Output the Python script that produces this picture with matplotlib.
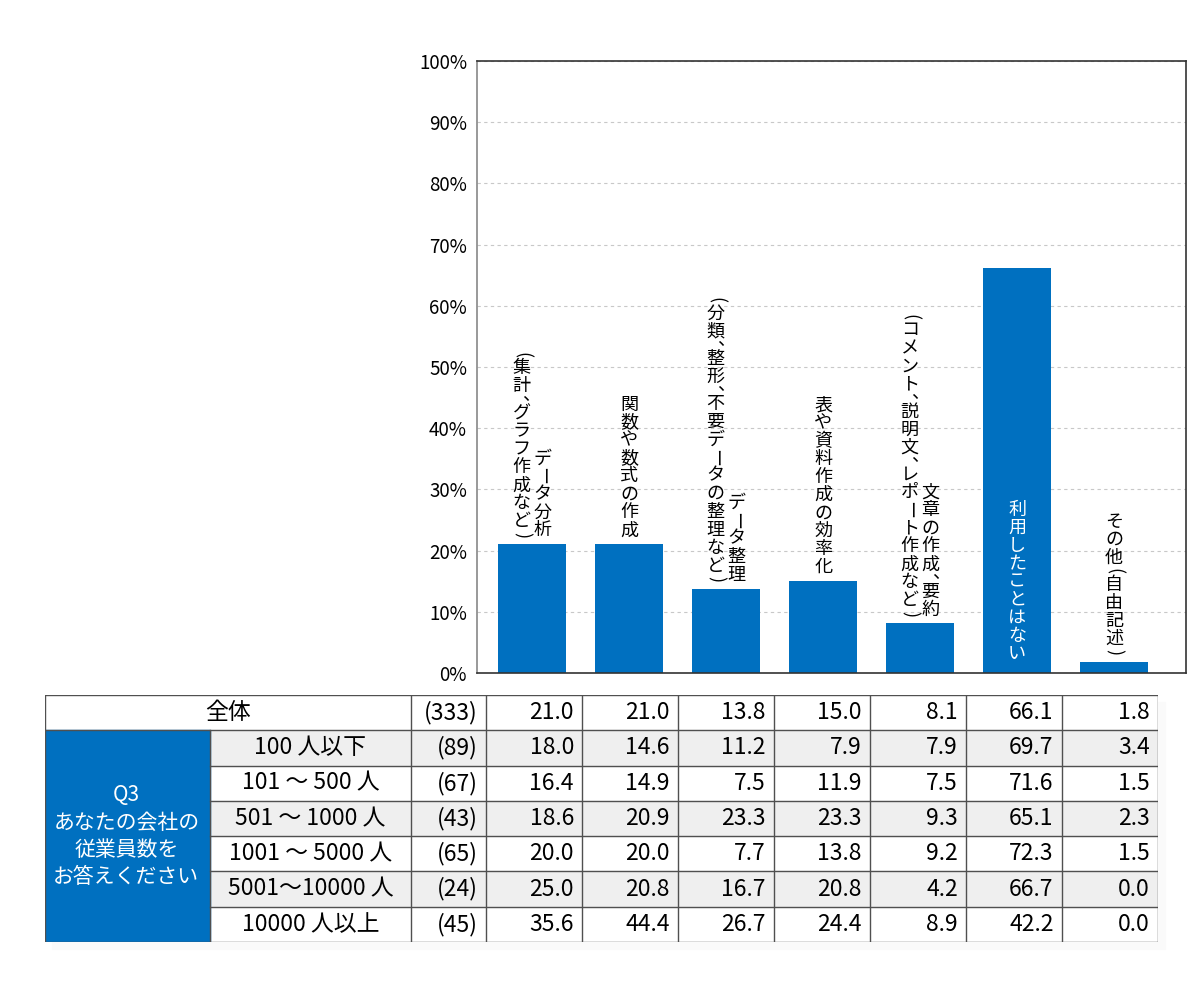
import numpy as np
import matplotlib
matplotlib.use("Agg")
from matplotlib import pyplot as plt
from matplotlib.patches import Rectangle

plt.rcParams['font.family'] = ['Noto Sans CJK JP', 'DejaVu Sans']

# %% data
labels = [
    "データ分析\n（集計、グラフ作成など）",
    "関数や数式の作成",
    "データ整理\n（分類、整形、不要データの整理など）",
    "表や資料作成の効率化",
    "文章の作成、要約\n（コメント、説明文、レポート作成など）",
    "利用したことはない",
    "その他（自由記述）",
]
total_label = "全体"
total_n = 333
total_values = [21.0, 21.0, 13.8, 15.0, 8.1, 66.1, 1.8]

question = "Q3\nあなたの会社の\n従業員数を\nお答えください"
groups = ["100 人以下", "101 ～ 500 人", "501 ～ 1000 人", "1001 ～ 5000 人",
          "5001～10000 人", "10000 人以上"]
group_n = [89, 67, 43, 65, 24, 45]
g_100 = [18.0, 14.6, 11.2, 7.9, 7.9, 69.7, 3.4]
g_500 = [16.4, 14.9, 7.5, 11.9, 7.5, 71.6, 1.5]
g_1000 = [18.6, 20.9, 23.3, 23.3, 9.3, 65.1, 2.3]
g_5000 = [20.0, 20.0, 7.7, 13.8, 9.2, 72.3, 1.5]
g_10000 = [25.0, 20.8, 16.7, 20.8, 4.2, 66.7, 0.0]
g_over = [35.6, 44.4, 26.7, 24.4, 8.9, 42.2, 0.0]
group_values = [g_100, g_500, g_1000, g_5000, g_10000, g_over]

BLUE = '#0070C0'
GRAY_ROW = '#efefef'
LINE = '#505050'

# %% bar chart
fig = plt.figure(figsize=(12, 10), dpi=100)
ax = fig.add_axes([0.3973, 0.327, 0.591, 0.612])

x = np.arange(len(total_values))
ax.bar(x, total_values, width=0.7, color=BLUE, zorder=2)
ax.set_xlim(-0.57, 6.74)
ax.set_ylim(0, 100)
ax.set_xticks([])
ax.set_yticks(np.arange(0, 101, 10))
ax.set_yticklabels([f"{v}%" for v in range(0, 101, 10)], fontsize=13.5)
ax.tick_params(axis='y', length=0, pad=7)
ax.yaxis.grid(True, color='#c8c8c8', linestyle=(0, (3, 3)), linewidth=0.8, zorder=0)
ax.spines['left'].set_color('#888888')
for s in ['top', 'right', 'bottom']:
    ax.spines[s].set_color('#333333')
for s in ax.spines.values():
    s.set_linewidth(1.2)

HALF = "（）、"


def vertical_column(xv, yv, col, dx, base, color):
    # stack the characters top-to-bottom, bottom end at `base` px above (xv, yv)
    cy = base
    for ch in reversed(col):
        h = 9 if ch in HALF else 18
        c = cy + h / 2
        kw = dict(xy=(xv, yv), xytext=(dx, c), textcoords='offset pixels',
                  ha='center', va='center', fontsize=13, color=color, zorder=3)
        if ch in "（）":
            ax.annotate("(" if ch == "（" else ")", rotation=-90, **kw)
        elif ch == "ー":
            ax.annotate(ch, rotation=-90, **kw)
        elif ch == "、":
            kw['xytext'] = (dx + 10, c + 5)
            ax.annotate(ch, **kw)
        else:
            ax.annotate(ch, **kw)
        cy += h


for i, (lab, val) in enumerate(zip(labels, total_values)):
    cols = lab.split("\n")
    inside = val > 40
    if len(cols) == 1:
        offs = [0]
    else:
        offs = [10.5, -10.5]
    for col, dx in zip(cols, offs):
        if inside:
            vertical_column(i, 0, col, dx, 10, 'white')
        else:
            vertical_column(i, val, col, dx, 5, 'black')

# %% table
tx0, tx1 = 44.7, 1157.7
ty0, ty1 = 695, 942
tax = fig.add_axes([tx0 / 1200, 1 - ty1 / 1000, (tx1 - tx0) / 1200, (ty1 - ty0) / 1000])
tax.set_xlim(tx0, tx1)
tax.set_ylim(ty1, ty0)
tax.axis('off')

x_sub, x_n, x_val0 = 210, 410.7, 486
val_edges = np.linspace(x_val0, tx1, len(total_values) + 1)
row_edges = np.linspace(ty0, ty1, len(groups) + 2)
rh = row_edges[1] - row_edges[0]

# faint shadow, then white body
tax.add_patch(Rectangle((tx0 + 7, ty0 + 7), tx1 - tx0, ty1 - ty0, color='#fafafa',
                        clip_on=False, zorder=0))
tax.add_patch(Rectangle((tx0, ty0), tx1 - tx0, ty1 - ty0, color='white', zorder=0.5))

for r in range(len(groups)):
    if r % 2 == 0:
        tax.add_patch(Rectangle((x_sub, row_edges[r + 1]), tx1 - x_sub, rh,
                                color=GRAY_ROW, zorder=1))
tax.add_patch(Rectangle((tx0, row_edges[1]), x_sub - tx0, ty1 - row_edges[1],
                        color=BLUE, zorder=1))

# lines
for k, y in enumerate(row_edges):
    xs = tx0 if k in (0, 1, len(row_edges) - 1) else x_sub
    tax.plot([xs, tx1], [y, y], color=LINE, lw=1.0, zorder=2)
tax.plot([x_sub, x_sub], [row_edges[1], ty1], color=LINE, lw=1.0, zorder=2)
for xe in [tx0, x_n] + list(val_edges):
    tax.plot([xe, xe], [ty0, ty1], color=LINE, lw=1.0, zorder=2)

pad = 8
FS = 16.5


def data_row(r, n, vals):
    yc = row_edges[r] + rh / 2
    tax.text(x_val0 - pad, yc, f"({n})", ha='right', va='center', fontsize=FS, zorder=3)
    for j, v in enumerate(vals):
        tax.text(val_edges[j + 1] - pad, yc, f"{v:.1f}", ha='right', va='center',
                 fontsize=FS, zorder=3)


tax.text((tx0 + x_n) / 2, row_edges[0] + rh / 2, total_label, ha='center',
         va='center', fontsize=FS, zorder=3)
data_row(0, total_n, total_values)
for r, (g, n, vals) in enumerate(zip(groups, group_n, group_values)):
    tax.text((x_sub + x_n) / 2, row_edges[r + 1] + rh / 2, g, ha='center',
             va='center', fontsize=FS, zorder=3)
    data_row(r + 1, n, vals)

tax.text((tx0 + x_sub) / 2 - 1, (row_edges[1] + ty1) / 2, question, ha='center',
         va='center', fontsize=15, color='white', linespacing=1.3, zorder=3)

fig.savefig('out.png', dpi=100)
